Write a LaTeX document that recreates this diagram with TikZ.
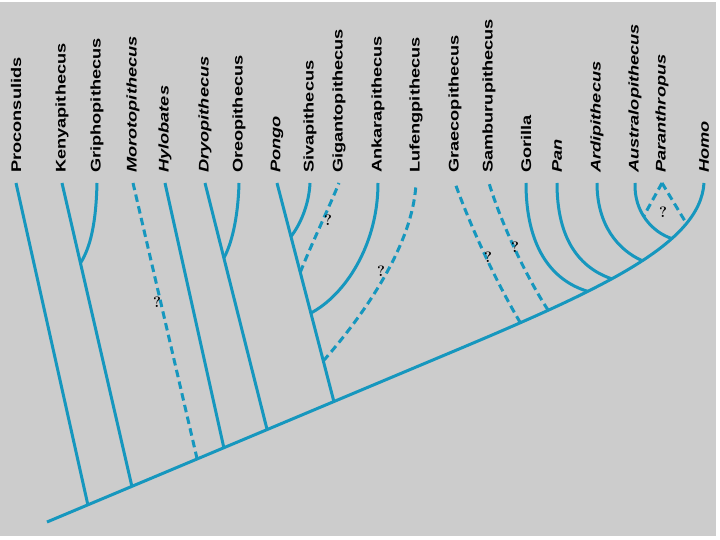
\documentclass[tikz,border=0pt]{standalone}
\usepackage{fontspec}
\usepackage{graphicx}
\setsansfont{Liberation Sans}
\definecolor{bgc}{RGB}{204,204,204}
\definecolor{brc}{RGB}{22,151,190}
\newcommand\taxtxt[1]{\scalebox{1.3}[1]{#1}}
\tikzset{
  branch/.style={draw=brc, line width=3pt},
  dbranch/.style={branch, dash pattern=on 7.5pt off 4.5pt},
  taxon/.style={rotate=90, anchor=west, inner sep=0pt, font=\sffamily\bfseries\fontsize{14}{14}\selectfont},
  itaxon/.style={taxon, font=\sffamily\bfseries\itshape\fontsize{14}{14}\selectfont},
  qm/.style={font=\bfseries\fontsize{15}{15}\selectfont, text=black, inner sep=0pt}
}
\begin{document}
\begin{tikzpicture}[x=1pt,y=-1pt]
\useasboundingbox (0,0) rectangle (720,540);
\fill[white] (0,0) rectangle (720,540);
\fill[bgc] (0,2) rectangle (716,536);

% labels
\node[taxon]  (Proc) at (16,173)  {\taxtxt{Proconsulids}};
\node[taxon]  (Keny) at (62,173)  {\taxtxt{Kenyapithecus}};
\node[taxon]  (Grip) at (97,173)  {\taxtxt{Griphopithecus}};
\node[itaxon] (Moro) at (133,173) {\taxtxt{Morotopithecus}};
\node[itaxon] (Hylo) at (165,173) {\taxtxt{Hylobates}};
\node[itaxon] (Dryo) at (205,173) {\taxtxt{Dryopithecus}};
\node[taxon]  (Oreo) at (239,173) {\taxtxt{Oreopithecus}};
\node[itaxon] (Pong) at (277,173) {\taxtxt{Pongo}};
\node[taxon]  (Siva) at (310,173) {\taxtxt{Sivapithecus}};
\node[taxon]  (Giga) at (339,173) {\taxtxt{Gigantopithecus}};
\node[taxon]  (Anka) at (378,173) {\taxtxt{Ankarapithecus}};
\node[taxon]  (Lufe) at (416,173) {\taxtxt{Lufengpithecus}};
\node[taxon]  (Grae) at (455,173) {\taxtxt{Graecopithecus}};
\node[taxon]  (Samb) at (489,173) {\taxtxt{Samburupithecus}};
\node[taxon]  (Gori) at (526,173) {\taxtxt{Gorilla}};
\node[itaxon] (Pan)  at (557,173) {\taxtxt{Pan}};
\node[itaxon] (Ardi) at (597,173) {\taxtxt{Ardipithecus}};
\node[itaxon] (Aust) at (635,173) {\taxtxt{Australopithecus}};
\node[itaxon] (Para) at (662,173) {\taxtxt{Paranthropus}};
\node[itaxon] (Homo) at (704,173) {\taxtxt{Homo}};

\foreach \n in {Proc,Keny,Grip,Moro,Hylo,Dryo,Oreo,Pong,Siva,Giga,Anka,Lufe,Grae,Samb,Gori,Pan,Ardi,Aust,Para,Homo}
  \coordinate (t\n) at ([yshift=-10pt]\n.west);

% trunk
\coordinate (root) at (47,522);
\draw[branch] (root) -- (440,357)
  coordinate[pos=0.104] (jProc)
  coordinate[pos=0.216] (jKeny)
  coordinate[pos=0.382] (jMoro)
  coordinate[pos=0.450] (jHylo)
  coordinate[pos=0.560] (jDryo)
  coordinate[pos=0.730] (jPong)
  .. controls (600,290) and (700,245) .. (tHomo)
  coordinate[pos=0.18] (jGrae)
  coordinate[pos=0.25] (jSamb)
  coordinate[pos=0.36] (jGori)
  coordinate[pos=0.435] (jPan)
  coordinate[pos=0.545] (jArdi)
  coordinate[pos=0.68] (jAust)
  coordinate[pos=0.77] (jHomoP);

% branches
\draw[branch] (jProc) -- (tProc);
\draw[branch] (jKeny) -- (tKeny) coordinate[pos=0.736] (jGrip);
\draw[branch] (jGrip) .. controls (90,248) and (96,225) .. (tGrip);
\draw[dbranch] (jMoro) -- (tMoro);
\draw[branch] (jHylo) -- (tHylo);
\draw[branch] (jDryo) -- (tDryo) coordinate[pos=0.696] (jOreo);
\draw[branch] (jOreo) .. controls (231,245) and (238,220) .. (tOreo);
\draw[branch] (jPong) -- (tPong)
  coordinate[pos=0.186] (jLufe)
  coordinate[pos=0.405] (jAnka)
  coordinate[pos=0.591] (jGiga)
  coordinate[pos=0.755] (jSiva);
\draw[branch] (jSiva) .. controls (300,225) and (309,205) .. (tSiva);
\draw[dbranch] (jGiga) .. controls (311,245) and (328,210) .. (tGiga);
\draw[branch] (jAnka) .. controls (345,295) and (378,245) .. (tAnka);
\draw[dbranch] (jLufe) .. controls (355,325) and (413,250) .. (tLufe);
\draw[dbranch] (jGrae) .. controls (495,280) and (470,225) .. (tGrae);
\draw[dbranch] (jSamb) .. controls (525,275) and (500,220) .. (tSamb);
\draw[branch] (jGori) .. controls (550,280) and (526,245) .. (tGori);
\draw[branch] (jPan) .. controls (580,268) and (557,240) .. (tPan);
\draw[branch] (jArdi) .. controls (618,250) and (597,225) .. (tArdi);
\draw[branch] (jAust) .. controls (652,232) and (634,212) .. (tAust) coordinate[pos=0.55] (jAP);
\draw[dbranch] (tPara) -- (jAP);
\draw[dbranch] (tPara) -- (jHomoP);

% question marks
\node[qm] (q1) at (157,302) {?};
\node[qm] (q2) at (328,220) {?};
\node[qm] (q3) at (381,271) {?};
\node[qm] (q4) at (488,257) {?};
\node[qm] (q5) at (515,247) {?};
\node[qm] (q6) at (663,212) {?};
\end{tikzpicture}
\end{document}
